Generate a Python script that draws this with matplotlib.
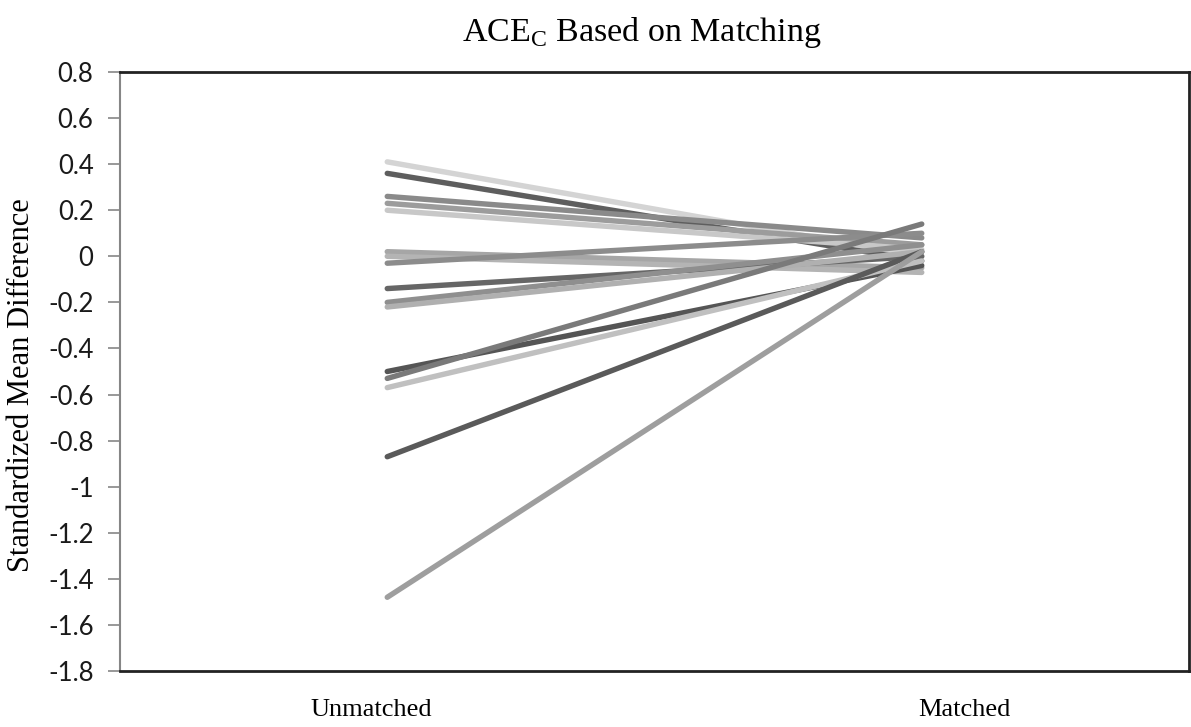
import matplotlib
matplotlib.use("Agg")
import matplotlib.pyplot as plt
import matplotlib.transforms as mtransforms

categories = ["Unmatched", "Matched"]
unmatched = [0.41, 0.36, 0.26, 0.23, 0.20, 0.02, 0.00, -0.03, -0.14, -0.20, -0.22, -0.50, -0.53, -0.57, -0.87, -1.48]
matched   = [0.00, -0.02, 0.08, 0.05, 0.03, -0.05, -0.07, 0.10, 0.00, 0.05, 0.02, -0.04, 0.14, -0.02, 0.02, 0.02]
colors = ["#d4d4d4", "#5e5e5e", "#8a8a8a", "#9c9c9c", "#c8c8c8", "#a6a6a6", "#b4b4b4", "#8c8c8c",
          "#666666", "#8f8f8f", "#b0b0b0", "#555555", "#7a7a7a", "#c0c0c0", "#5a5a5a", "#9e9e9e"]
yticks = [0.8, 0.6, 0.4, 0.2, 0, -0.2, -0.4, -0.6, -0.8, -1, -1.2, -1.4, -1.6, -1.8]

fig = plt.figure(figsize=(11.91, 7.27), dpi=100)
ax = fig.add_axes([120/1191, 1-671/727, (1189-120)/1191, (671-72)/727])

xs = [0, 1]
for u, m, c in zip(unmatched, matched, colors):
    ax.plot(xs, [u, m], color=c, lw=3.9, solid_capstyle="round")

ax.set_xlim(-0.5, 1.5)
ax.set_ylim(-1.8, 0.8)
ax.set_yticks(yticks)
ax.set_yticklabels([f"{t:g}" for t in yticks], fontfamily="Lato", fontsize=18.5, color="#1a1a1a")
ax.tick_params(axis="y", direction="out", length=9, width=1.2, color="#868686", pad=10)
ax.set_xticks([])

for s in ["top", "bottom", "right"]:
    ax.spines[s].set_color("#222222")
    ax.spines[s].set_linewidth(2)
ax.spines["left"].set_color("#868686")
ax.spines["left"].set_linewidth(1.5)

trans = mtransforms.blended_transform_factory(ax.transData, fig.transFigure)
ax.text(-0.03, 1-710/727, categories[0], transform=trans, ha="center", va="center",
        fontfamily="Liberation Serif", fontsize=19)
ax.text(1.08, 1-710/727, categories[1], transform=trans, ha="center", va="center",
        fontfamily="Liberation Serif", fontsize=19)

fig.text(0.539, 1-33/727, r"ACE$_\mathregular{C}$ Based on Matching", ha="center", va="center",
         fontfamily="Liberation Serif", fontsize=24.5)
fig.text(22/1191, 1-385/727, "Standardized Mean Difference", rotation=90, ha="center", va="center",
         fontfamily="Liberation Serif", fontsize=22)

fig.savefig("out.png", dpi=100)
